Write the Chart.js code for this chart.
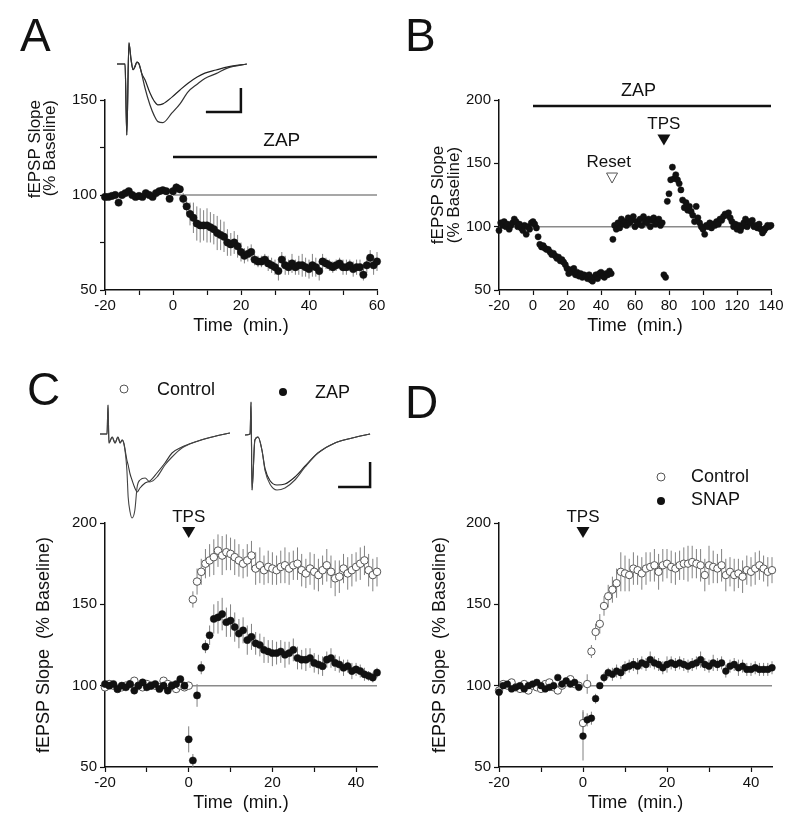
<!DOCTYPE html>
<html>
<head>
<meta charset="utf-8">
<script src="https://cdn.jsdelivr.net/npm/chart.js@4.4.1/dist/chart.umd.min.js"></script>
<style>
  body { margin: 0; background: #fff; }
  #fig { position: relative; width: 800px; height: 833px; overflow: hidden; font-family: "Liberation Sans", Arial, sans-serif; }
  canvas { position: absolute; }
  .lbl { position: absolute; font-size: 46px; line-height: 1; color: #111; }
</style>
</head>
<body>
<div id="fig">
  <canvas id="chartA" width="400" height="345" style="left:0;top:0"></canvas>
  <canvas id="chartB" width="400" height="345" style="left:400px;top:0"></canvas>
  <canvas id="chartC" width="400" height="473" style="left:0;top:360px"></canvas>
  <canvas id="chartD" width="400" height="473" style="left:400px;top:360px"></canvas>
  <canvas id="traceA" width="145" height="105" style="left:110px;top:35px"></canvas>
  <canvas id="traceC" width="290" height="130" style="left:95px;top:395px"></canvas>
  <div class="lbl" style="left:20px;top:12px">A</div>
  <div class="lbl" style="left:405px;top:12px">B</div>
  <div class="lbl" style="left:27px;top:366px">C</div>
  <div class="lbl" style="left:405px;top:379px">D</div>
</div>
<script>
// fEPSP slope (% baseline), one sample per minute, starting at t = -20 min
const aSlope = [99, 99, 99.5, 100, 96, 100, 101, 102, 100, 99,
  99.5, 99, 101, 100, 99, 101, 102, 102.5, 102, 98,
  102, 104, 103, 98, 94, 90, 88, 85, 84, 84,
  84, 83, 82, 80, 79, 78, 75, 74, 75, 73,
  70, 68, 69, 70, 66, 65, 65, 66, 64, 63,
  62, 60, 66, 63, 62, 64, 62, 63, 63, 62,
  61, 63, 62, 60, 65, 64, 63, 62, 63, 64,
  62, 62, 63, 61, 62, 62, 58, 63, 67, 63, 65];
const aErr = [1, 1, 1, 1, 1, 1, 1, 1, 1, 1,
  1, 1, 1, 1, 1, 1, 1, 1, 1, 1,
  1.5, 2, 2, 3, 4, 6, 8, 9, 9, 8,
  9, 8, 8, 9, 8, 8, 7, 6, 6, 6,
  5, 4, 4, 4, 3, 3, 3, 3, 4, 4,
  4, 5, 4, 5, 4, 5, 4, 5, 6, 5,
  5, 6, 5, 5, 4, 3, 3, 3, 3, 3,
  4, 4, 3, 4, 4, 4, 3, 4, 4, 5, 5];

const bSlope = [97, 103, 101, 104, 100, 102, 98, 101, 103, 106,
  104, 100, 102, 99, 97, 101, 94, 100, 98, 103,
  104, 102, 99, 92, 86, 84, 85, 83, 82, 82,
  80, 78, 79, 77, 75, 76, 73, 74, 72, 70,
  67, 63, 66, 64, 67, 62, 64, 61, 63, 60,
  62, 61, 59, 62, 58, 57, 60, 62, 59, 63,
  64, 61, 60, 63, 62, 65, 63, 90, 101, 98,
  103, 99, 106, 102, 104, 101, 107, 103, 105, 108,
  100, 104, 102, 106, 101, 108, 104, 103, 106, 100,
  105, 107, 102, 104, 106, 101, 103, 62, 60, 120,
  126, 137, 147, 138, 141, 137, 134, 129, 121, 115,
  119, 113, 116, 112, 109, 104, 116, 107, 103, 100,
  98, 94, 101, 100, 103, 99, 102, 101, 104, 102,
  106, 105, 108, 110, 109, 111, 107, 104, 100, 102,
  98, 101, 97, 100, 103, 106, 100, 104, 103, 105,
  100, 101, 99, 102, 98, 95, 97, 99, 101, 100, 101];

const cControl = [99, 101, 100, 98, 99, 100, 101, 103, 100, 99,
  101, 100, 100, 99, 103, 101, 100, 98, 100, 99,
  100, 153, 164, 170, 175, 177, 179, 183, 180, 182,
  181, 179, 177, 175, 177, 180, 172, 174, 171, 173,
  172, 171, 173, 174, 172, 174, 175, 171, 169, 172,
  170, 168, 171, 174, 170, 166, 167, 172, 169, 171,
  173, 175, 177, 171, 168, 170];
const cControlErr = [1.5, 1.5, 1.5, 1.5, 1.5, 1.5, 1.5, 1.5, 1.5, 1.5,
  1.5, 1.5, 1.5, 1.5, 1.5, 1.5, 1.5, 1.5, 1.5, 1.5,
  2, 5, 8, 8, 9, 10, 11, 10, 12, 11,
  10, 11, 10, 9, 10, 9, 10, 11, 9, 10,
  10, 9, 10, 11, 10, 9, 10, 10, 9, 10,
  11, 10, 9, 10, 10, 11, 10, 9, 10, 10,
  9, 10, 9, 10, 10, 9];
const cZap = [101, 100, 101, 98, 100, 99, 101, 97, 100, 102,
  99, 100, 101, 98, 100, 97, 100, 101, 104, 100,
  67, 54, 94, 111, 124, 131, 141, 142, 144, 139,
  140, 136, 132, 134, 128, 130, 126, 125, 122, 121,
  120, 120, 121, 119, 120, 122, 117, 116, 116, 117,
  114, 113, 112, 116, 117, 114, 113, 111, 112, 109,
  110, 109, 107, 106, 105, 108];
const cZapErr = [1.5, 1.5, 1.5, 1.5, 1.5, 1.5, 1.5, 1.5, 1.5, 1.5,
  1.5, 1.5, 1.5, 1.5, 1.5, 1.5, 1.5, 1.5, 1.5, 1.5,
  8, 4, 7, 4, 4, 6, 9, 10, 10, 9,
  10, 9, 9, 8, 9, 8, 7, 7, 8, 7,
  8, 7, 7, 8, 7, 7, 7, 6, 7, 6,
  6, 6, 6, 5, 6, 5, 5, 5, 4, 5,
  4, 4, 4, 3, 3, 3];

const dControl = [97, 101, 100, 102, 99, 98, 101, 97, 100, 99,
  98, 101, 102, 99, 97, 100, 102, 104, 101, 100,
  77, 101, 121, 133, 138, 149, 155, 159, 163, 170,
  169, 168, 172, 171, 169, 172, 173, 174, 170, 174,
  175, 173, 172, 174, 175, 175, 176, 175, 174, 168,
  174, 173, 172, 174, 168, 170, 168, 169, 167, 171,
  170, 172, 174, 172, 170, 171];
const dControlErr = [1.5, 1.5, 1.5, 1.5, 1.5, 1.5, 1.5, 1.5, 1.5, 1.5,
  1.5, 1.5, 1.5, 1.5, 1.5, 1.5, 1.5, 1.5, 1.5, 1.5,
  8, 6, 4, 5, 6, 6, 7, 8, 9, 12,
  11, 10, 10, 9, 10, 10, 9, 10, 11, 10,
  9, 10, 10, 9, 10, 11, 10, 9, 10, 10,
  12, 10, 9, 10, 10, 9, 10, 9, 10, 9,
  9, 10, 9, 8, 9, 8];
const dSnap = [96, 100, 101, 98, 99, 100, 98, 100, 101, 102,
  100, 98, 99, 100, 105, 101, 103, 101, 102, 99,
  69, 79, 80, 92, 100, 105, 108, 107, 109, 108,
  111, 112, 113, 112, 114, 113, 116, 114, 113, 111,
  113, 114, 113, 114, 113, 112, 113, 114, 116, 113,
  112, 114, 113, 114, 109, 112, 113, 111, 112, 110,
  110, 111, 110, 110, 110, 111];
const dSnapErr = [1.5, 1.5, 1.5, 1.5, 1.5, 1.5, 1.5, 1.5, 1.5, 1.5,
  1.5, 1.5, 1.5, 1.5, 1.5, 1.5, 1.5, 1.5, 1.5, 1.5,
  15, 4, 4, 3, 2, 3, 3, 4, 4, 4,
  4, 4, 4, 5, 4, 4, 5, 4, 4, 4,
  5, 4, 4, 4, 4, 4, 4, 4, 5, 4,
  4, 5, 4, 4, 4, 4, 4, 5, 4, 4,
  4, 4, 4, 4, 4, 4];

// example field potentials (ms, mV)
const trAms = [0, 1.4, 2.3, 2.8, 3.4, 4.0, 4.6, 5.1, 5.7, 6.3, 7.1, 8, 9.4, 10.6, 11.7, 13.1, 15.7, 18, 20.3, 22.9, 25.1, 28.3, 31.7, 37.1];
const trAbase = [0, 0, 0, -1.48, 0.44, 0.1, -0.12, -0.06, 0.04, 0, -0.22, -0.5, -0.85, -1.07, -1.2, -1.22, -1.02, -0.83, -0.58, -0.42, -0.3, -0.2, -0.08, 0];
const trAzap = [0, 0, 0, -1.48, 0.44, 0.1, -0.12, -0.06, 0.04, 0, -0.2, -0.33, -0.6, -0.77, -0.85, -0.83, -0.69, -0.54, -0.4, -0.27, -0.19, -0.125, -0.06, 0];
const trCms = [0, 2.2, 2.5, 2.8, 3.8, 4.7, 5.6, 6.3, 6.9, 7.5, 8.4, 8.8, 9.4, 10, 10.9, 11.6, 12.5, 14.1, 15.6, 17.8, 20.3, 22.5, 25.6, 29.7, 35, 40.6];
const trCctlPre = [0, 0, 0.58, -0.18, -0.06, -0.18, -0.06, -0.18, -0.12, -0.2, -0.52, -0.62, -0.8, -0.92, -1.08, -1.16, -1.08, -0.98, -0.94, -0.78, -0.58, -0.38, -0.26, -0.16, -0.06, 0.02];
const trCctlPost = [0, 0, 0.58, -0.18, -0.06, -0.18, -0.06, -0.18, -0.12, -0.2, -0.72, -1.26, -1.56, -1.68, -1.52, -1.06, -0.92, -0.88, -0.96, -0.86, -0.62, -0.46, -0.28, -0.16, -0.06, 0.02];
const trZms = [45.3, 46.9, 47.2, 47.5, 48.4, 49.4, 50.6, 51.6, 53.1, 55.3, 57.8, 60.9, 64.1, 68.1, 73.4, 78.8, 84.4];
const trCzapPost = [-0.02, 0, 0.64, -1.12, -0.12, -0.06, -0.32, -0.74, -1.0, -1.12, -1.08, -0.92, -0.66, -0.38, -0.18, -0.08, 0];
const trCzapPre = [-0.02, 0, 0.64, -1.12, -0.12, -0.06, -0.32, -0.7, -0.93, -1.02, -1.0, -0.86, -0.64, -0.38, -0.18, -0.08, 0];

Chart.defaults.font.family = '"Liberation Sans", Arial, sans-serif';
Chart.defaults.color = '#111';

function perMinute(start, values) {
  return values.map((v, i) => ({ x: start + i, y: v }));
}
function pairs(xs, ys) {
  return xs.map((x, i) => ({ x: x, y: ys[i] }));
}

const errorBars = {
  id: 'errorBars',
  beforeDatasetsDraw(chart) {
    const ctx = chart.ctx, ys = chart.scales.y;
    chart.data.datasets.forEach((ds, i) => {
      if (!ds.errors) return;
      const meta = chart.getDatasetMeta(i);
      ctx.save();
      ctx.strokeStyle = '#808080';
      ctx.lineWidth = 1;
      meta.data.forEach((pt, j) => {
        const e = ds.errors[j];
        if (!e) return;
        const v = ds.data[j].y;
        ctx.beginPath();
        ctx.moveTo(pt.x, ys.getPixelForValue(v - e));
        ctx.lineTo(pt.x, ys.getPixelForValue(v + e));
        ctx.stroke();
      });
      ctx.restore();
    });
  }
};

const figMarks = {
  id: 'figMarks',
  afterDatasetsDraw(chart, args, opts) {
    const ctx = chart.ctx, xs = chart.scales.x, ys = chart.scales.y;
    (opts.items || []).forEach(it => {
      ctx.save();
      if (it.type === 'bar') {
        ctx.strokeStyle = '#111';
        ctx.lineWidth = 2.5;
        const py = ys.getPixelForValue(it.y);
        ctx.beginPath();
        ctx.moveTo(xs.getPixelForValue(it.x0), py);
        ctx.lineTo(xs.getPixelForValue(it.x1), py);
        ctx.stroke();
      } else if (it.type === 'text') {
        ctx.font = it.size + 'px "Liberation Sans", Arial';
        ctx.fillStyle = '#111';
        ctx.textAlign = 'center';
        ctx.textBaseline = 'middle';
        ctx.fillText(it.text, xs.getPixelForValue(it.x), ys.getPixelForValue(it.y));
      } else if (it.type === 'tri') {
        const cx = xs.getPixelForValue(it.x), cy = ys.getPixelForValue(it.y);
        ctx.beginPath();
        ctx.moveTo(cx - it.w / 2, cy - it.h / 2);
        ctx.lineTo(cx + it.w / 2, cy - it.h / 2);
        ctx.lineTo(cx, cy + it.h / 2);
        ctx.closePath();
        if (it.open) {
          ctx.fillStyle = '#fff';
          ctx.fill();
          ctx.strokeStyle = '#555';
          ctx.lineWidth = 1;
          ctx.stroke();
        } else {
          ctx.fillStyle = '#111';
          ctx.fill();
        }
      } else if (it.type === 'key') {
        ctx.beginPath();
        ctx.arc(it.px, it.py, 4, 0, Math.PI * 2);
        if (it.open) {
          ctx.fillStyle = '#fff';
          ctx.fill();
          ctx.strokeStyle = '#555';
          ctx.lineWidth = 1;
          ctx.stroke();
        } else {
          ctx.fillStyle = '#111';
          ctx.fill();
        }
        ctx.font = '18px "Liberation Sans", Arial';
        ctx.fillStyle = '#111';
        ctx.textAlign = 'left';
        ctx.textBaseline = 'middle';
        ctx.fillText(it.text, it.tx, it.ty);
      }
      ctx.restore();
    });
  }
};

function filled(data, errors, r) {
  return { data: data, errors: errors, pointRadius: r, backgroundColor: '#111', borderColor: '#111', borderWidth: 0.5, clip: false };
}
function hollow(data, errors, r) {
  return { data: data, errors: errors, pointRadius: r, backgroundColor: '#fff', borderColor: '#555', borderWidth: 1, clip: false };
}
function refLine(x0, x1) {
  return { data: [{ x: x0, y: 100 }, { x: x1, y: 100 }], showLine: true, pointRadius: 0, borderColor: '#8a8a8a', borderWidth: 1.5, clip: false };
}

function panel(id, o) {
  return new Chart(document.getElementById(id), {
    type: 'scatter',
    data: { datasets: o.datasets },
    options: {
      responsive: false,
      animation: false,
      events: [],
      layout: { padding: { left: 0, top: o.top, right: o.right, bottom: 0 } },
      plugins: { legend: { display: false }, tooltip: { enabled: false }, figMarks: { items: o.marks } },
      scales: {
        x: {
          type: 'linear', min: o.xMin, max: o.xMax,
          ticks: { stepSize: o.xStep, includeBounds: false, autoSkip: false, maxRotation: 0, padding: 2,
                   font: { size: 15 }, color: '#111',
                   callback: v => (v % o.xLabelEvery === 0 ? v : '') },
          grid: { drawOnChartArea: false, drawTicks: true, tickLength: 5, tickColor: '#111', tickWidth: 1.2 },
          border: { color: '#111', width: 1.5 },
          title: { display: true, text: 'Time  (min.)', font: { size: 18 }, color: '#111', padding: { top: 0, bottom: o.xTitlePad } },
          afterFit: s => { s.height = o.xHeight; }
        },
        y: {
          type: 'linear', min: o.yMin, max: o.yMax,
          ticks: { stepSize: o.yStep, autoSkip: false, padding: 3, font: { size: 15 }, color: '#111',
                   callback: v => (v % 50 === 0 ? v : '') },
          grid: { drawOnChartArea: false, drawTicks: true, tickLength: 5, tickColor: '#111', tickWidth: 1.2 },
          border: { color: '#111', width: 1.5 },
          title: { display: true, text: o.yTitle, align: o.yAlign, font: o.yFont, color: '#111', padding: { top: o.yTitlePad, bottom: 0 } },
          afterFit: s => { s.width = o.yWidth; }
        }
      }
    },
    plugins: [errorBars, figMarks]
  });
}

panel('chartA', {
  top: 100, right: 23, xMin: -20, xMax: 60, xStep: 10, xLabelEvery: 20, xHeight: 55, xTitlePad: 8,
  yMin: 50, yMax: 150, yStep: 25, yWidth: 105, yTitlePad: 28, yAlign: 'end',
  yTitle: ['fEPSP Slope', '(% Baseline)'], yFont: { size: 17, lineHeight: '15px' },
  datasets: [filled(perMinute(-20, aSlope), aErr, 3.7), refLine(0, 60)],
  marks: [
    { type: 'bar', x0: 0, x1: 60, y: 120 },
    { type: 'text', text: 'ZAP', x: 32, y: 128.4, size: 19 }
  ]
});

panel('chartB', {
  top: 100, right: 29, xMin: -20, xMax: 140, xStep: 20, xLabelEvery: 20, xHeight: 55, xTitlePad: 8,
  yMin: 50, yMax: 200, yStep: 50, yWidth: 99, yTitlePad: 30, yAlign: 'center',
  yTitle: ['fEPSP Slope', '(% Baseline)'], yFont: { size: 17, lineHeight: '16px' },
  datasets: [filled(perMinute(-20, bSlope), null, 3.1), refLine(-20, 140)],
  marks: [
    { type: 'bar', x0: 0, x1: 140, y: 195.3 },
    { type: 'text', text: 'ZAP', x: 62, y: 207.1, size: 18 },
    { type: 'text', text: 'Reset', x: 44.5, y: 151, size: 17 },
    { type: 'tri', x: 46.5, y: 138.4, w: 11, h: 10, open: true },
    { type: 'text', text: 'TPS', x: 77, y: 181, size: 17 },
    { type: 'tri', x: 77, y: 168.4, w: 13, h: 11 }
  ]
});

panel('chartC', {
  top: 163, right: 23, xMin: -20, xMax: 45, xStep: 10, xLabelEvery: 20, xHeight: 66, xTitlePad: 19,
  yMin: 50, yMax: 200, yStep: 50, yWidth: 105, yTitlePad: 33, yAlign: 'center',
  yTitle: 'fEPSP Slope  (% Baseline)', yFont: { size: 18 },
  datasets: [filled(perMinute(-20, cZap), cZapErr, 3.6), hollow(perMinute(-20, cControl), cControlErr, 3.8), refLine(0, 45)],
  marks: [
    { type: 'text', text: 'TPS', x: 0, y: 203.7, size: 17 },
    { type: 'tri', x: 0, y: 194.2, w: 13, h: 11 },
    { type: 'key', open: true, px: 124, py: 29, text: 'Control', tx: 157, ty: 30 },
    { type: 'key', open: false, px: 283, py: 32, text: 'ZAP', tx: 315, ty: 33 }
  ]
});

panel('chartD', {
  top: 163, right: 28, xMin: -20, xMax: 45, xStep: 10, xLabelEvery: 20, xHeight: 66, xTitlePad: 19,
  yMin: 50, yMax: 200, yStep: 50, yWidth: 99, yTitlePad: 29, yAlign: 'center',
  yTitle: 'fEPSP Slope  (% Baseline)', yFont: { size: 18 },
  datasets: [filled(perMinute(-20, dSnap), dSnapErr, 3.4), hollow(perMinute(-20, dControl), dControlErr, 3.7), refLine(0, 45)],
  marks: [
    { type: 'text', text: 'TPS', x: 0, y: 203.7, size: 17 },
    { type: 'tri', x: 0, y: 194.2, w: 13, h: 11 },
    { type: 'key', open: true, px: 261, py: 117, text: 'Control', tx: 291, ty: 117 },
    { type: 'key', open: false, px: 261, py: 141, text: 'SNAP', tx: 291, ty: 140 }
  ]
});

function traceLine(data, width, color) {
  return { data: data, borderColor: color, borderWidth: width, pointRadius: 0, cubicInterpolationMode: 'monotone', clip: false };
}
// scale bars: 10 ms by 0.5 mV, corner given in trace units
function scaleBar(cornerMs, cornerMv) {
  return { data: [{ x: cornerMs - 10, y: cornerMv }, { x: cornerMs, y: cornerMv }, { x: cornerMs, y: cornerMv + 0.5 }],
           borderColor: '#111', borderWidth: 2.5, pointRadius: 0, tension: 0, clip: false };
}
function traces(id, xr, yr, datasets) {
  return new Chart(document.getElementById(id), {
    type: 'line',
    data: { datasets: datasets },
    options: {
      responsive: false, animation: false, events: [],
      layout: { padding: 0 },
      plugins: { legend: { display: false }, tooltip: { enabled: false } },
      scales: {
        x: { type: 'linear', display: false, min: xr[0], max: xr[1] },
        y: { type: 'linear', display: false, min: yr[0], max: yr[1] }
      }
    }
  });
}

traces('traceA', [-2, 39.43], [-1.583, 0.604], [
  traceLine(pairs(trAms, trAbase), 1.2, '#333'),
  traceLine(pairs(trAms, trAzap), 1.2, '#222'),
  scaleBar(35.4, -1.0)
]);

traces('traceC', [-1.5625, 89.06], [-1.82, 0.78], [
  traceLine(pairs(trCms, trCctlPost), 1.1, '#444'),
  traceLine(pairs(trCms, trCctlPre), 1.1, '#333'),
  traceLine(pairs(trZms, trCzapPost), 1.1, '#444'),
  traceLine(pairs(trZms, trCzapPre), 1.1, '#222'),
  scaleBar(84.4, -1.06)
]);
</script>
</body>
</html>
